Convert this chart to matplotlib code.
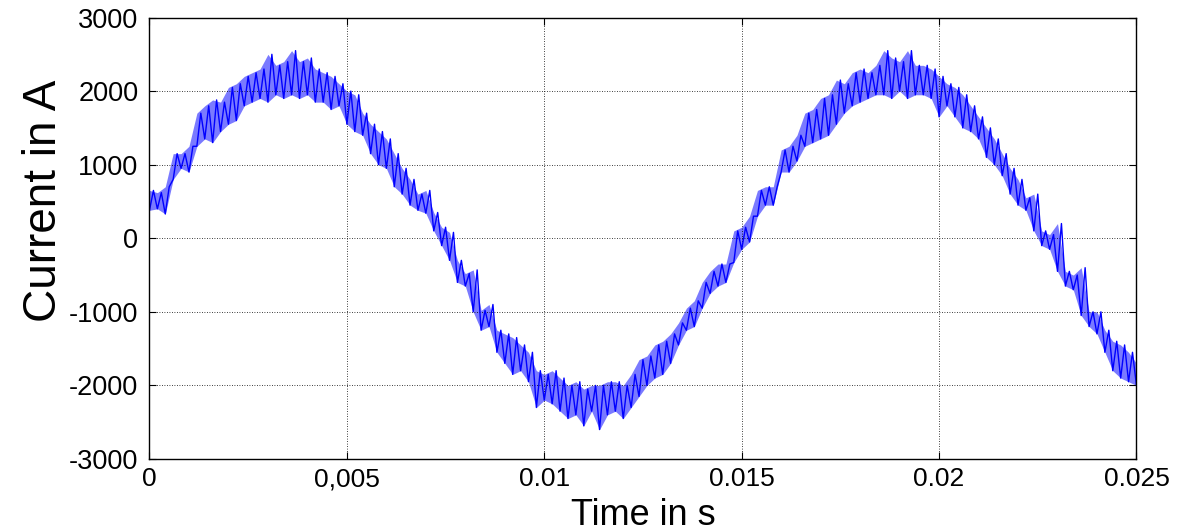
import numpy as np
import matplotlib
matplotlib.use("Agg")
import matplotlib.pyplot as plt

# sample times in ms (every 0.2 ms) with lower / upper edge of the ripple band in A
time_ms = np.arange(0, 25.01, 0.2)
band_lo = [
    380, 400, 330, 800, 950, 900, 1250, 1350, 1300, 1450,
    1550, 1600, 1800, 1850, 1900, 1850, 1950, 1900, 1950, 1900,
    1950, 1850, 1850, 1750, 1800, 1550, 1450, 1400, 1150, 1000,
    950, 700, 600, 450, 380, 340, 100, -100, -300, -600,
    -650, -1000, -1250, -1200, -1550, -1700, -1850, -1800, -1950, -2300,
    -2200, -2250, -2350, -2450, -2400, -2550, -2350, -2600, -2400, -2350,
    -2450, -2300, -2150, -2000, -1900, -1850, -1700, -1450, -1250, -1200,
    -950, -750, -650, -600, -330, -150, -50, 300, 450, 450,
    900, 900, 1050, 1250, 1300, 1350, 1400, 1550, 1700, 1800,
    1850, 1900, 1950, 1950, 1900, 2000, 1900, 1950, 1950, 1900,
    1650, 1800, 1650, 1500, 1450, 1350, 1100, 1000, 850, 600,
    450, 380, 100, -100, -150, -450, -650, -700, -1050, -1200,
    -1300, -1550, -1800, -1900, -1950, -2000,
]
band_hi = [
    650, 620, 700, 1150, 1150, 1250, 1700, 1800, 1880, 1850,
    2050, 2100, 2200, 2250, 2300, 2500, 2350, 2400, 2550, 2400,
    2450, 2300, 2250, 2200, 2100, 2000, 1950, 1700, 1550, 1450,
    1350, 1150, 950, 800, 600, 650, 350, 150, 80, -300,
    -480, -430, -980, -900, -1250, -1300, -1350, -1450, -1550, -1800,
    -1850, -1800, -1900, -2000, -1950, -2050, -2000, -2000, -1950, -1950,
    -2000, -1850, -1650, -1600, -1450, -1400, -1300, -1150, -950, -850,
    -600, -450, -350, -350, 100, 150, 300, 650, 700, 700,
    1200, 1250, 1400, 1700, 1750, 1900, 1950, 2150, 2100, 2250,
    2300, 2250, 2350, 2550, 2450, 2400, 2550, 2350, 2350, 2300,
    2200, 2100, 2050, 1950, 1800, 1650, 1500, 1350, 1150, 950,
    800, 550, 600, 100, 50, 200, -450, -500, -400, -1000,
    -1000, -1250, -1400, -1450, -1550, -1700,
]

xticks = [0, 0.005, 0.01, 0.015, 0.02, 0.025]
xtick_labels = ["0", "0,005", "0.01", "0.015", "0.02", "0.025"]
yticks = [-3000, -2000, -1000, 0, 1000, 2000, 3000]

# interleave the band edges into one zigzag trace
t = np.empty(2 * len(time_ms))
i = np.empty(2 * len(time_ms))
t[0::2] = time_ms / 1000
t[1::2] = (time_ms + 0.1) / 1000
i[0::2] = band_lo
i[1::2] = band_hi

plt.rcParams["font.family"] = ["Liberation Sans", "DejaVu Sans"]

fig = plt.figure(figsize=(11.93, 5.31), dpi=100)
ax = fig.add_axes([0.1253, 0.1356, 0.8273, 0.8314])

# ripple band, then the trace on top
ax.fill_between(time_ms / 1000, band_lo, band_hi, color="#7a7aff", lw=0)
ax.plot(t, i, color="#0000ff", lw=1.0)

ax.set_xlim(0, 0.025)
ax.set_ylim(-3000, 3000)
ax.set_xticks(xticks)
ax.set_xticklabels(xtick_labels, fontsize=19)
ax.set_yticks(yticks)
ax.set_yticklabels([str(v) for v in yticks], fontsize=19.5)
ax.tick_params(direction="in", length=5, width=0.8, top=True, right=True)
ax.tick_params(axis="x", pad=6)
ax.tick_params(axis="y", pad=8)
ax.grid(True, color="black", linestyle=(0, (1, 2)), lw=0.6)

ax.set_xlabel("Time in s", fontsize=26)
ax.xaxis.set_label_coords(0.5, -0.088, transform=ax.transAxes)
ax.set_ylabel("Current in A", fontsize=33)
ax.yaxis.set_label_coords(-0.085, 0.585, transform=ax.transAxes)

for s in ax.spines.values():
    s.set_linewidth(1.0)

fig.savefig("out.png", dpi=100)
plt.close()
